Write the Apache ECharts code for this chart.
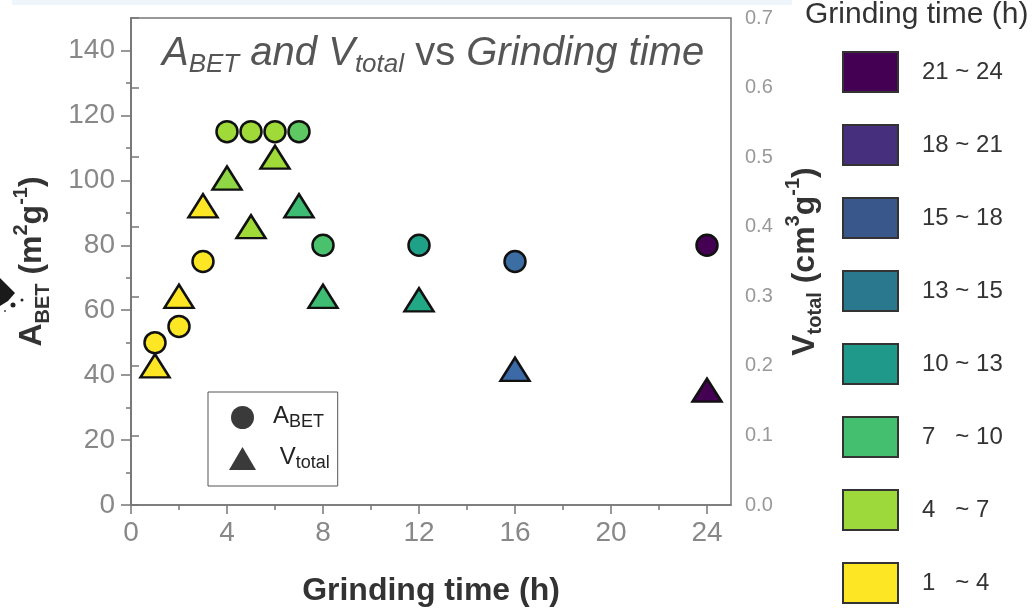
<!DOCTYPE html>
<html>
<head>
<meta charset="utf-8">
<script src="https://cdn.jsdelivr.net/npm/echarts@6/dist/echarts.min.js"></script>
<style>
html,body{margin:0;padding:0;background:#fff;}
#c{width:1033px;height:612px;}
</style>
</head>
<body>
<div id="c"></div>
<script>
// ---- data ----
const grindTime = [1, 2, 3, 4, 5, 6, 7, 8, 12, 16, 24];
const aBET = [50, 55, 75, 115, 115, 115, 115, 80, 80, 75, 80];
const vTotal = [0.20, 0.30, 0.43, 0.47, 0.40, 0.50, 0.43, 0.30, 0.295, 0.195, 0.165];
const xTicks = [0, 4, 8, 12, 16, 20, 24];
const xMinorTicks = [2, 6, 10, 14, 18, 22];
const yLeftTicks = [0, 20, 40, 60, 80, 100, 120, 140];
const yLeftMinorTicks = [10, 30, 50, 70, 90, 110, 130];
const rangeLabels = ['21 ~ 24', '18 ~ 21', '15 ~ 18', '13 ~ 15', '10 ~ 13', '7   ~ 10', '4   ~ 7', '1   ~ 4'];

// ---- styles ----
const aColors = ['#fde725','#fde725','#fde725','#a0da39','#a0da39','#a0da39','#5ec962','#4ac16d','#1fa187','#3b6fa3','#440154'];
const vColors = ['#fde725','#fde725','#fde725','#8fd744','#a0da39','#a0da39','#3fbc73','#3fbc73','#22a884','#3b6aa6','#440154'];
const rangeColors = ['#440154','#46307e','#3a578c','#2a788e','#1f9a8a','#44bf70','#9dd93b','#fde725'];
const FF = '"Liberation Sans", Arial, sans-serif';
const axisColor = '#777';

const chart = echarts.init(document.getElementById('c'), null, {renderer: 'canvas'});

const circleData = grindTime.map((t, i) => ({value: [t, aBET[i]], itemStyle: {color: aColors[i]}}));
const triData = grindTime.map((t, i) => ({value: [t, vTotal[i]], itemStyle: {color: vColors[i]}}));

const dummySeries = rangeLabels.map((lab, i) => ({
  type: 'scatter', name: lab, data: [], xAxisIndex: 0, yAxisIndex: 0,
  itemStyle: {color: rangeColors[i], borderColor: '#333', borderWidth: 1, opacity: 1}
}));

const nameRich = {
  b: {fontFamily: FF, fontSize: 32, fontWeight: 'bold', color: '#333', lineHeight: 42},
  bs: {fontFamily: FF, fontSize: 20, fontWeight: 'bold', color: '#333', lineHeight: 24, verticalAlign: 'bottom'},
  bp: {fontFamily: FF, fontSize: 20, fontWeight: 'bold', color: '#333', lineHeight: 24, verticalAlign: 'top'}
};

const option = {
  animation: false,
  backgroundColor: '#fff',
  textStyle: {fontFamily: FF},
  graphic: [
    {type: 'rect', shape: {x: 12, y: 0, width: 780, height: 5}, style: {fill: '#eef6fb'}, silent: true},
    {type: 'polygon', shape: {points: [[0, 278], [15, 293], [8, 301], [0, 306]]}, style: {fill: '#1a1a1a'}, silent: true},
    {type: 'circle', shape: {cx: 13, cy: 305, r: 2.5}, style: {fill: '#222'}, silent: true},
    {type: 'circle', shape: {cx: 22, cy: 300, r: 1.5}, style: {fill: '#222'}, silent: true},
    {type: 'circle', shape: {cx: 5, cy: 311, r: 1}, style: {fill: '#444'}, silent: true}
  ],
  title: [
    {
      left: 162, top: 34, padding: 0,
      text: '{i|A}{s|BET}{i| and V}{s|total}{n| vs }{i|Grinding time}',
      textStyle: {
        fontWeight: 'normal',
        rich: {
          i: {fontFamily: FF, fontStyle: 'italic', fontWeight: 'normal', fontSize: 40, color: '#555', lineHeight: 44, verticalAlign: 'top'},
          n: {fontFamily: FF, fontWeight: 'normal', fontSize: 40, color: '#555', lineHeight: 44, verticalAlign: 'top'},
          s: {fontFamily: FF, fontStyle: 'italic', fontWeight: 'normal', fontSize: 26, color: '#555', lineHeight: 15, verticalAlign: 'bottom'}
        }
      }
    },
    {
      left: 805, top: 0, padding: 0,
      text: 'Grinding time (h)',
      textStyle: {fontFamily: FF, fontSize: 30, fontWeight: 'normal', color: '#333'}
    }
  ],
  grid: {left: 131, right: 302, top: 18, bottom: 104, show: true, borderColor: axisColor, borderWidth: 1.5, backgroundColor: 'transparent'},
  legend: [
    {
      left: 208, top: 392, orient: 'vertical', selectedMode: false,
      borderColor: '#555', borderWidth: 1, padding: [12, 8, 14, 21],
      itemWidth: 27, itemHeight: 23, itemGap: 14,
      data: [
        {name: 'A_BET', icon: 'circle', itemStyle: {color: '#3a3a3a', borderWidth: 0, opacity: 1}},
        {name: 'V_total', icon: 'triangle', itemStyle: {color: '#3a3a3a', borderWidth: 0, opacity: 1}}
      ],
      formatter: n => n === 'A_BET' ? '{m|A}{s|BET}' : '{m| V}{s|total}',
      textStyle: {
        rich: {
          m: {fontFamily: FF, fontSize: 24, color: '#222', lineHeight: 27, verticalAlign: 'top', padding: [0, 0, 0, 12]},
          s: {fontFamily: FF, fontSize: 18, color: '#222', lineHeight: 9, verticalAlign: 'bottom'}
        }
      }
    },
    {
      left: 842, top: 51, orient: 'vertical', selectedMode: false, padding: 0,
      itemWidth: 55, itemHeight: 40, itemGap: 31, icon: 'rect',
      data: rangeLabels,
      formatter: n => '{t|' + n + '}',
      textStyle: {rich: {t: {fontFamily: FF, fontSize: 24, color: '#333', padding: [0, 0, 0, 19]}}}
    }
  ],
  xAxis: [
    {
      type: 'value', position: 'bottom', min: 0, max: 25,
      axisLine: {show: true, lineStyle: {color: axisColor, width: 1.5}},
      axisTick: {show: true, customValues: xTicks, length: 9, lineStyle: {color: axisColor, width: 1.5}},
      axisLabel: {customValues: xTicks, fontFamily: FF, fontSize: 28, color: '#888', margin: 14},
      splitLine: {show: false},
      name: 'Grinding time (h)', nameLocation: 'middle', nameGap: 70,
      nameTextStyle: {fontFamily: FF, fontSize: 32, fontWeight: 'bold', color: '#333'}
    },
    {
      type: 'value', position: 'bottom', min: 0, max: 25,
      axisLine: {show: false},
      axisTick: {show: true, customValues: xMinorTicks, length: 5, lineStyle: {color: axisColor, width: 1.5}},
      axisLabel: {show: false},
      splitLine: {show: false}
    }
  ],
  yAxis: [
    {
      type: 'value', position: 'left', min: 0, max: 150,
      axisLine: {show: true, lineStyle: {color: axisColor, width: 1.5}},
      axisTick: {show: true, customValues: yLeftTicks, length: 10, lineStyle: {color: axisColor, width: 1.5}},
      axisLabel: {customValues: yLeftTicks, fontFamily: FF, fontSize: 28, color: '#888', margin: 16},
      splitLine: {show: false},
      name: '{b|A}{bs|BET}{b| (m}{bp|2}{b|g}{bp|-1}{b|)}',
      nameLocation: 'middle', nameRotate: 90, nameGap: 78,
      nameTextStyle: {rich: nameRich}
    },
    {
      type: 'value', position: 'right', min: 0, max: 0.7, interval: 0.1,
      axisLine: {show: true, lineStyle: {color: axisColor, width: 1.5}},
      axisTick: {show: true, length: 8, lineStyle: {color: axisColor, width: 1.5}},
      axisLabel: {fontFamily: FF, fontSize: 20, color: '#999', margin: 14, formatter: v => v.toFixed(1)},
      splitLine: {show: false},
      name: '{b|V}{bs|total}{b| (cm}{bp|3}{b|g}{bp|-1}{b|)}',
      nameLocation: 'middle', nameRotate: 90, nameGap: 52,
      nameTextStyle: {rich: nameRich}
    },
    {
      type: 'value', position: 'left', min: 0, max: 150,
      axisLine: {show: false},
      axisTick: {show: true, customValues: yLeftMinorTicks, length: 5, lineStyle: {color: axisColor, width: 1.5}},
      axisLabel: {show: false},
      splitLine: {show: false}
    }
  ],
  series: [
    {
      type: 'scatter', name: 'A_BET', xAxisIndex: 0, yAxisIndex: 0, z: 3,
      symbol: 'circle', symbolSize: 21,
      itemStyle: {borderColor: '#111', borderWidth: 2.5, opacity: 1},
      data: circleData
    },
    {
      type: 'scatter', name: 'V_total', xAxisIndex: 0, yAxisIndex: 1, z: 4,
      symbol: 'triangle', symbolSize: [29, 23],
      itemStyle: {borderColor: '#111', borderWidth: 2.5, opacity: 1},
      data: triData
    }
  ].concat(dummySeries)
};
chart.setOption(option);
</script>
</body>
</html>
